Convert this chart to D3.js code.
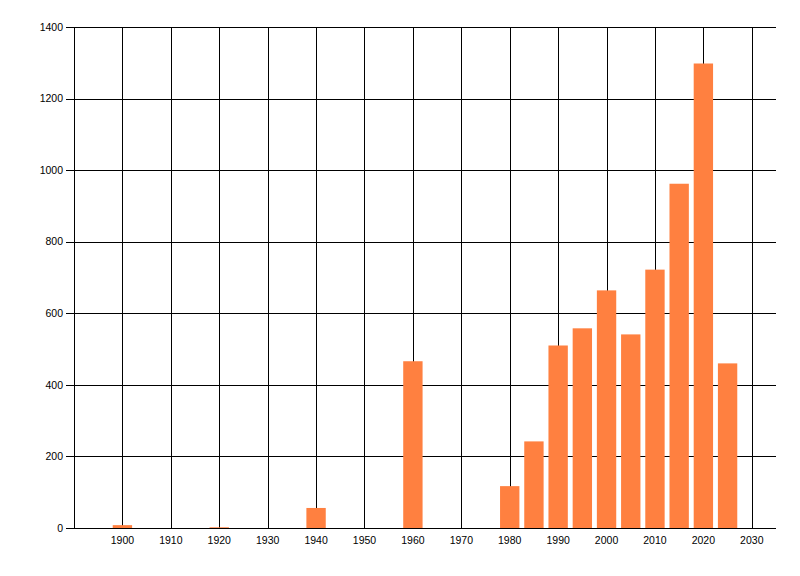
<!DOCTYPE html>
<html>
<head>
<meta charset="utf-8">
<script src="https://cdn.jsdelivr.net/npm/d3@7"></script>
<style>
  body { margin: 0; background: #fff; }
  text { font-family: "Liberation Sans", Arial, sans-serif; font-size: 10.5px; fill: #000; }
</style>
</head>
<body>
<svg id="chart" width="800" height="576"></svg>
<script>
let years = [1900, 1920, 1940, 1960, 1980, 1985, 1990, 1995, 2000, 2005, 2010, 2015, 2020, 2025];
let counts = [8, 2, 56, 466, 117, 242, 510, 558, 664, 541, 722, 962, 1298, 460];
let xTicks = [1900, 1910, 1920, 1930, 1940, 1950, 1960, 1970, 1980, 1990, 2000, 2010, 2020, 2030];
let yTicks = [0, 200, 400, 600, 800, 1000, 1200, 1400];

let plotLeft = 74;
let plotRight = 776;
let plotTop = 27;
let plotBottom = 528;
let barYears = 4;

const svg = d3.select("#chart");

const x = d3.scaleLinear().domain([1890, 2035]).range([plotLeft, plotRight]);
const y = d3.scaleLinear().domain([0, 1400]).range([plotBottom, plotTop]);

function crisp(v) {
  return Math.round(v) + 0.5;
}

// grid
svg.append("g")
  .selectAll("line")
  .data(xTicks)
  .enter()
  .append("line")
  .attr("x1", d => crisp(x(d)))
  .attr("x2", d => crisp(x(d)))
  .attr("y1", plotTop)
  .attr("y2", plotBottom)
  .style("stroke", "black");

svg.append("g")
  .selectAll("line")
  .data(yTicks)
  .enter()
  .append("line")
  .attr("x1", plotLeft - 8)
  .attr("x2", plotRight)
  .attr("y1", d => crisp(y(d)))
  .attr("y2", d => crisp(y(d)))
  .style("stroke", "black");

// y axis line
svg.append("line")
  .attr("x1", crisp(plotLeft))
  .attr("x2", crisp(plotLeft))
  .attr("y1", plotTop)
  .attr("y2", plotBottom)
  .style("stroke", "black");

// bars
svg.append("g")
  .selectAll("rect")
  .data(years)
  .enter()
  .append("rect")
  .attr("x", d => x(d - barYears / 2))
  .attr("width", d => x(d + barYears / 2) - x(d - barYears / 2))
  .attr("y", (d, i) => y(counts[i]))
  .attr("height", (d, i) => y(0) - y(counts[i]))
  .style("fill", "#ff8040");

// labels
svg.append("g")
  .selectAll("text")
  .data(xTicks)
  .enter()
  .append("text")
  .attr("x", d => x(d))
  .attr("y", plotBottom + 16)
  .attr("text-anchor", "middle")
  .text(d => d);

svg.append("g")
  .selectAll("text")
  .data(yTicks)
  .enter()
  .append("text")
  .attr("x", plotLeft - 11)
  .attr("y", d => y(d))
  .attr("dy", "0.35em")
  .attr("text-anchor", "end")
  .text(d => d);
</script>
</body>
</html>
